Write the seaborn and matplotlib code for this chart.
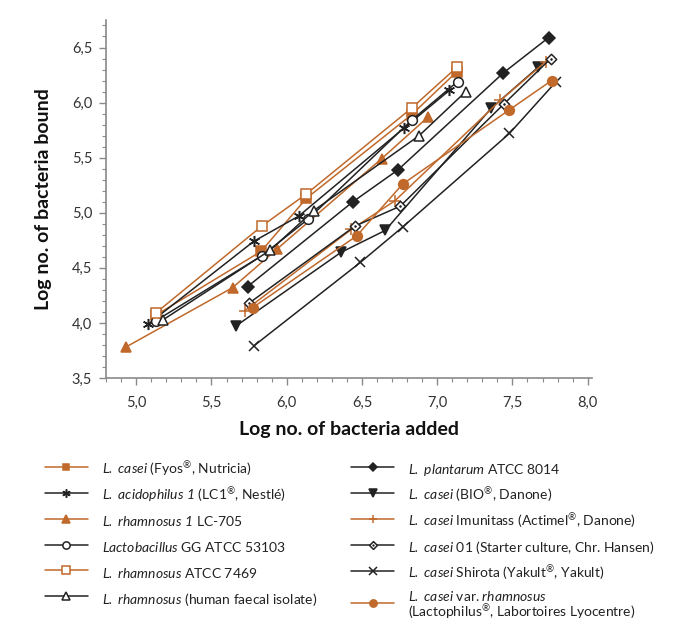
import numpy as np
import pandas as pd
import seaborn as sns
import matplotlib.pyplot as plt
from matplotlib.path import Path
from matplotlib.ticker import MultipleLocator, FuncFormatter

# values (log added, log bound)
# \mathsf is mapped to the italic face below so digits stay italic too
strains = [
    r"$\mathsf{L.\ casei}$ (Fyos$^{®}$, Nutricia)",
    r"$\mathsf{L.\ acidophilus\ 1}$ (LC1$^{®}$, Nestlé)",
    r"$\mathsf{L.\ rhamnosus\ 1}$ LC-705",
    r"$\mathsf{Lactobacillus}$ GG ATCC 53103",
    r"$\mathsf{L.\ rhamnosus}$ ATCC 7469",
    r"$\mathsf{L.\ rhamnosus}$ (human faecal isolate)",
    r"$\mathsf{L.\ plantarum}$ ATCC 8014",
    r"$\mathsf{L.\ casei}$ (BIO$^{®}$, Danone)",
    r"$\mathsf{L.\ casei}$ Imunitass (Actimel$^{®}$, Danone)",
    r"$\mathsf{L.\ casei}$ 01 (Starter culture, Chr. Hansen)",
    r"$\mathsf{L.\ casei}$ Shirota (Yakult$^{®}$, Yakult)",
    r"$\mathsf{L.\ casei}$ var. $\mathsf{rhamnosus}$" + "\n" + r"(Lactophilus$^{®}$, Labortoires Lyocentre)",
]

x_fyos = [5.13, 5.83, 6.13, 6.83, 7.13]
y_fyos = [4.07, 4.65, 5.13, 5.89, 6.28]
x_lc1 = [5.08, 5.78, 6.08, 6.78, 7.08]
y_lc1 = [3.99, 4.74, 4.97, 5.77, 6.11]
x_lc705 = [4.93, 5.64, 5.935, 6.63, 6.94]
y_lc705 = [3.78, 4.32, 4.67, 5.49, 5.87]
x_gg = [5.13, 5.835, 6.14, 6.83, 7.135]
y_gg = [4.02, 4.61, 4.94, 5.84, 6.19]
x_7469 = [5.13, 5.835, 6.13, 6.83, 7.13]
y_7469 = [4.09, 4.88, 5.17, 5.95, 6.32]
x_faecal = [5.18, 5.89, 6.18, 6.88, 7.19]
y_faecal = [4.03, 4.66, 5.02, 5.70, 6.10]
x_plant = [5.74, 6.44, 6.74, 7.44, 7.74]
y_plant = [4.33, 5.10, 5.39, 6.27, 6.59]
x_bio = [5.66, 6.36, 6.655, 7.36, 7.67]
y_bio = [3.97, 4.64, 4.84, 5.95, 6.32]
x_imun = [5.72, 6.43, 6.72, 7.42, 7.72]
y_imun = [4.11, 4.85, 5.11, 6.02, 6.37]
x_c01 = [5.75, 6.455, 6.755, 7.445, 7.755]
y_c01 = [4.18, 4.88, 5.06, 5.99, 6.40]
x_shirota = [5.78, 6.49, 6.77, 7.48, 7.79]
y_shirota = [3.79, 4.55, 4.87, 5.72, 6.19]
x_lacto = [5.775, 6.465, 6.77, 7.475, 7.76]
y_lacto = [4.14, 4.79, 5.26, 5.93, 6.20]

xs = [x_fyos, x_lc1, x_lc705, x_gg, x_7469, x_faecal,
      x_plant, x_bio, x_imun, x_c01, x_shirota, x_lacto]
ys = [y_fyos, y_lc1, y_lc705, y_gg, y_7469, y_faecal,
      y_plant, y_bio, y_imun, y_c01, y_shirota, y_lacto]

df = pd.concat([pd.DataFrame({"added": x, "bound": y, "strain": s})
                for s, x, y in zip(strains, xs, ys)], ignore_index=True)

ORANGE = "#C0692B"
DARK = "#222222"

# diamond with a tiny inner diamond -> looks like a dotted diamond
dot_diamond = Path(
    [(0, 1), (1, 0), (0, -1), (-1, 0), (0, 1),
     (0, 0.12), (0.12, 0), (0, -0.12), (-0.12, 0), (0, 0.12)],
    [Path.MOVETO, Path.LINETO, Path.LINETO, Path.LINETO, Path.CLOSEPOLY,
     Path.MOVETO, Path.LINETO, Path.LINETO, Path.LINETO, Path.CLOSEPOLY])

styles = [
    dict(color=ORANGE, marker="s", ms=6.5, mfc=ORANGE),
    dict(color=DARK, marker=(6, 2, 0), ms=8, mfc=DARK),
    dict(color=ORANGE, marker="^", ms=7, mfc=ORANGE),
    dict(color=DARK, marker="o", ms=7, mfc="white"),
    dict(color=ORANGE, marker="s", ms=7, mfc="white"),
    dict(color=DARK, marker="^", ms=7.5, mfc="white"),
    dict(color=DARK, marker="D", ms=6, mfc=DARK),
    dict(color=DARK, marker="v", ms=7, mfc=DARK),
    dict(color=ORANGE, marker="+", ms=8, mfc=ORANGE),
    dict(color=DARK, marker=dot_diamond, ms=7.5, mfc="white"),
    dict(color=DARK, marker="x", ms=7, mfc=DARK),
    dict(color=ORANGE, marker="o", ms=7, mfc=ORANGE),
]

sns.set_style("ticks")
plt.rcParams["font.family"] = ["Lato", "DejaVu Sans"]
plt.rcParams["mathtext.fontset"] = "custom"
plt.rcParams["mathtext.rm"] = "Lato"
plt.rcParams["mathtext.it"] = "Lato:italic"
plt.rcParams["mathtext.sf"] = "Lato:italic"
plt.rcParams["mathtext.bf"] = "Lato:bold"

fig = plt.figure(figsize=(6.87, 6.24), dpi=100)
ax = fig.add_axes([0.1545, 0.3942, 0.7075, 0.5738])

for s, st in zip(strains, styles):
    sub = df[df["strain"] == s]
    sns.lineplot(data=sub, x="added", y="bound", ax=ax, sort=False,
                 color=st["color"], marker=st["marker"], markersize=st["ms"],
                 markerfacecolor=st["mfc"], markeredgecolor=st["color"],
                 markeredgewidth=1.1, linewidth=1.1, label=s)

ax.set_xlim(4.8, 8.03)
ax.set_ylim(3.5, 6.75)
ax.xaxis.set_major_locator(MultipleLocator(0.5))
ax.xaxis.set_minor_locator(MultipleLocator(0.1))
ax.yaxis.set_major_locator(MultipleLocator(0.5))
ax.yaxis.set_minor_locator(MultipleLocator(0.1))
fmt = FuncFormatter(lambda v, _: f"{v:.1f}".replace(".", ","))
ax.xaxis.set_major_formatter(fmt)
ax.yaxis.set_major_formatter(fmt)

for side in ["top", "right"]:
    ax.spines[side].set_visible(False)
for side in ["left", "bottom"]:
    ax.spines[side].set_color("#8a8a8a")
    ax.spines[side].set_linewidth(1.2)
ax.tick_params(axis="x", which="major", pad=8)
ax.tick_params(axis="y", which="major", pad=5)
ax.tick_params(which="major", length=5, width=1, color="#8a8a8a",
               labelsize=10.5, labelcolor="#333333")
ax.tick_params(which="minor", length=3, width=0.8, color="#8a8a8a")

ax.set_xlabel("Log no. of bacteria added", fontsize=14, fontweight="bold",
              color="#111111", labelpad=8)
ax.set_ylabel("Log no. of bacteria bound", fontsize=14, fontweight="bold",
              color="#111111", labelpad=14)

handles, labels = ax.get_legend_handles_labels()
ax.get_legend().remove()
leg = fig.legend(handles, labels, ncol=2, loc="upper left",
                 bbox_to_anchor=(0.055, 0.2745), frameon=False, fontsize=10,
                 markerscale=0.75, handlelength=3.1, handleheight=1.9,
                 handletextpad=1.0, labelspacing=0.38, columnspacing=2.45,
                 borderpad=0, labelcolor="#222222")
leg.get_texts()[-1].set_linespacing(0.95)

fig.savefig("out.png", dpi=100)
